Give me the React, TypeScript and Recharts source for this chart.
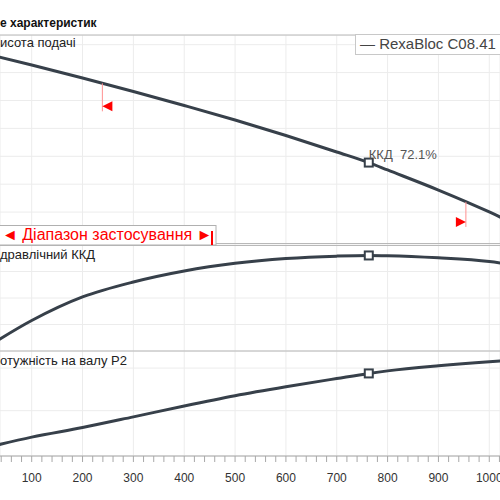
import React from 'react';
import { LineChart, Line, XAxis, YAxis, CartesianGrid, ReferenceDot } from 'recharts';

// Flow rate Q (m³/h)
const flow = [0, 100, 200, 300, 400, 500, 600, 700, 763, 800, 900, 1000, 1050];
// Head H (m)
const head = [15.44, 14.54, 13.61, 12.65, 11.64, 10.6, 9.49, 8.31, 7.55, 7.02, 5.58, 4.01, 3.15];
// Hydraulic efficiency (%)
const efficiency = [0, 23.0, 40.8, 52.1, 60.4, 66.2, 69.8, 71.6, 72.1, 71.9, 70.3, 67.5, 64.8];
// Shaft power P2 (kW)
const power = [2.0, 7.6, 12.1, 17.1, 22.2, 27.0, 31.2, 35.1, 37.5, 38.7, 41.1, 43.0, 43.8];

const bestFlow = 763;
const bestLabel = 'ККД  72.1%';
const rangeStart = 239;
const rangeStartHead = 13.23;
const rangeEnd = 954;
const rangeEndHead = 4.73;

const xDomain = [37.65, 1021.1];
const xMajorTicks = [100, 200, 300, 400, 500, 600, 700, 800, 900, 1000];
const xMinorTicks = Array.from({ length: 50 }, (_, i) => 40 + i * 20);
const headDomain = [1.642, 16.695];
const headTicks = [2, 4, 6, 8, 10, 12, 14, 16];
const effDomain = [0, 80];
const effTicks = [20, 40, 60];
const powerDomain = [-1.27, 48.03];
const powerTicks = [10, 20, 30, 40];

const titleText = 'е характеристик';
const headLabel = 'исота подачі';
const effLabel = 'дравлічний ККД';
const powerLabel = 'отужність на валу P2';
const legendText = '— RexaBloc C08.41';
const rangeText = '◄ Діапазон застосування ►';

const rows = flow.map((f, i) => ({ flow: f, head: head[i], efficiency: efficiency[i], power: power[i] }));

const LINE = '#37404a';
const GRID = '#ececec';
const BORDER = '#b8b8b8';
const FONT = '"Liberation Sans", Arial, sans-serif';

const makeDot = (withLabel: boolean) => (props: any) => {
  const { cx, cy, payload, index } = props;
  if (!payload || payload.flow !== bestFlow) return <g key={`d${index}`} />;
  return (
    <g key={`d${index}`}>
      <rect x={cx - 4} y={cy - 4} width={8} height={8} fill="#fff" stroke={LINE} strokeWidth={2} />
      {withLabel && (
        <text x={cx} y={cy - 4} fontSize={13} fill="#555" fontFamily={FONT} style={{ whiteSpace: 'pre' }}>
          {bestLabel}
        </text>
      )}
    </g>
  );
};

const startMarker = (p: any) => (
  <g>
    <line x1={p.cx} x2={p.cx} y1={p.cy} y2={p.cy + 28} stroke="#ff9090" strokeWidth={1} />
    <polygon points={`${p.cx},${p.cy + 23} ${p.cx + 10},${p.cy + 18} ${p.cx + 10},${p.cy + 28}`} fill="#ff0000" />
  </g>
);

const endMarker = (p: any) => (
  <g>
    <line x1={p.cx} x2={p.cx} y1={p.cy} y2={p.cy + 25} stroke="#ff9090" strokeWidth={1} />
    <polygon points={`${p.cx},${p.cy + 20} ${p.cx - 10},${p.cy + 15} ${p.cx - 10},${p.cy + 25}`} fill="#ff0000" />
  </g>
);

const zeroMargin = { top: 0, right: 0, bottom: 0, left: 0 };

export default function App() {
  return (
    <div style={{ position: 'absolute', left: 0, top: 0, width: 500, height: 500, overflow: 'hidden', background: '#fff', fontFamily: FONT }}>
      {/* Panel 1: head */}
      <div style={{ position: 'absolute', left: 0, top: 35 }}>
        <LineChart width={500} height={210} data={rows} margin={zeroMargin}>
          <CartesianGrid stroke={GRID} xAxisId="g" />
          <XAxis xAxisId="g" type="number" dataKey="flow" domain={xDomain} ticks={xMajorTicks} hide allowDataOverflow />
          <YAxis type="number" domain={headDomain} ticks={headTicks} hide allowDataOverflow />
          <Line xAxisId="g" dataKey="head" type="monotone" stroke={LINE} strokeWidth={3} dot={makeDot(true)} activeDot={false} isAnimationActive={false} />
          <ReferenceDot xAxisId="g" x={rangeStart} y={rangeStartHead} r={0} shape={startMarker} />
          <ReferenceDot xAxisId="g" x={rangeEnd} y={rangeEndHead} r={0} shape={endMarker} />
        </LineChart>
      </div>
      {/* Panel 2: efficiency */}
      <div style={{ position: 'absolute', left: 0, top: 245 }}>
        <LineChart width={500} height={106} data={rows} margin={zeroMargin}>
          <CartesianGrid stroke={GRID} xAxisId="g" />
          <XAxis xAxisId="g" type="number" dataKey="flow" domain={xDomain} ticks={xMajorTicks} hide allowDataOverflow />
          <YAxis type="number" domain={effDomain} ticks={effTicks} hide allowDataOverflow />
          <Line xAxisId="g" dataKey="efficiency" type="monotone" stroke={LINE} strokeWidth={3} dot={makeDot(false)} activeDot={false} isAnimationActive={false} />
        </LineChart>
      </div>
      {/* Panel 3: power */}
      <div style={{ position: 'absolute', left: 0, top: 351 }}>
        <LineChart width={500} height={135} data={rows} margin={zeroMargin}>
          <CartesianGrid stroke={GRID} xAxisId="g" />
          <XAxis xAxisId="g" type="number" dataKey="flow" domain={xDomain} ticks={xMajorTicks} hide allowDataOverflow />
          <XAxis
            xAxisId="a"
            type="number"
            dataKey="flow"
            domain={xDomain}
            ticks={xMinorTicks}
            interval={0}
            allowDataOverflow
            height={30}
            tickSize={6}
            tickMargin={11}
            stroke="#a8a8a8"
            tick={{ fontSize: 12, fill: '#333', fontFamily: FONT }}
            tickFormatter={(v: number) => (v % 100 === 0 ? String(v) : '')}
          />
          <YAxis type="number" domain={powerDomain} ticks={powerTicks} hide allowDataOverflow />
          <Line xAxisId="g" dataKey="power" type="monotone" stroke={LINE} strokeWidth={3} dot={makeDot(false)} activeDot={false} isAnimationActive={false} />
        </LineChart>
      </div>
      {/* Frame, titles, legend, range box */}
      <svg width={500} height={500} style={{ position: 'absolute', left: 0, top: 0 }}>
        <rect x={0} y={34.5} width={500} height={1} fill={BORDER} />
        <rect x={0} y={243} width={500} height={1} fill={BORDER} />
        <rect x={0} y={245} width={500} height={1} fill={BORDER} />
        <rect x={0} y={350.5} width={500} height={1} fill={BORDER} />
        <text x={0} y={27} fontSize={12} fontWeight="bold" fill="#111" fontFamily={FONT}>{titleText}</text>
        <text x={0} y={47} fontSize={13} fill="#222" fontFamily={FONT}>{headLabel}</text>
        <text x={0} y={259} fontSize={13} fill="#222" fontFamily={FONT}>{effLabel}</text>
        <text x={0} y={365} fontSize={13} fill="#222" fontFamily={FONT}>{powerLabel}</text>
        <rect x={355.5} y={34.5} width={160} height={20} fill="#fff" stroke="#c8c8c8" />
        <text x={360} y={49} fontSize={15} fill="#444" fontFamily={FONT}>{legendText}</text>
        <rect x={-1} y={225.5} width={217} height={19.5} fill="#fff" stroke="#b0b0b0" />
        <text x={2} y={240} fontSize={16} fill="#ff0000" fontFamily={FONT}>{rangeText}</text>
        <rect x={211} y={231} width={2} height={14} fill="#ff0000" />
      </svg>
    </div>
  );
}
